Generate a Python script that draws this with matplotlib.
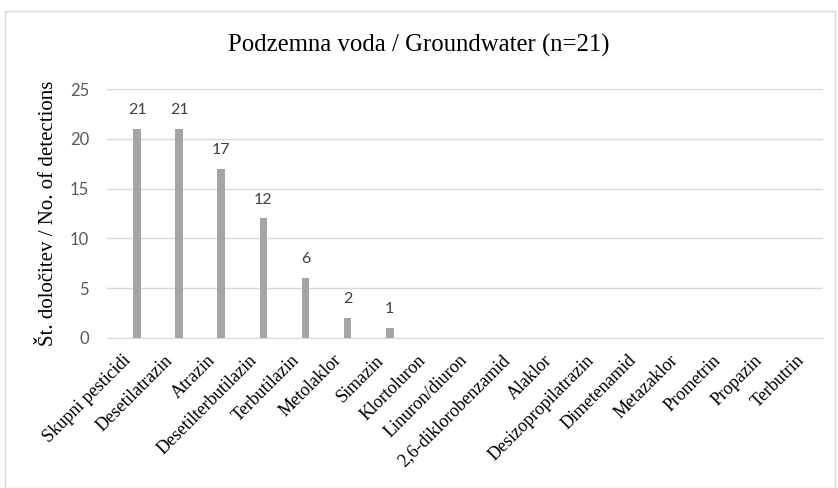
import matplotlib.pyplot as plt
from matplotlib.patches import Rectangle
from matplotlib.transforms import ScaledTranslation

categories = ['Skupni pesticidi', 'Desetilatrazin', 'Atrazin', 'Desetilterbutilazin',
              'Terbutilazin', 'Metolaklor', 'Simazin', 'Klortoluron', 'Linuron/diuron',
              '2,6-diklorobenzamid', 'Alaklor', 'Desizopropilatrazin', 'Dimetenamid',
              'Metazaklor', 'Prometrin', 'Propazin', 'Terbutrin']
counts = [21, 21, 17, 12, 6, 2, 1, 0, 0, 0, 0, 0, 0, 0, 0, 0, 0]
yticks = [0, 5, 10, 15, 20, 25]

fig = plt.figure(figsize=(8.38, 4.88), dpi=100)
fig.patches.append(Rectangle((5/838, 0.0), 830/838, 1 - 11/488, transform=fig.transFigure,
                             fill=False, edgecolor='#d9d9d9', linewidth=1))
ax = fig.add_axes([107/838, 1 - 338/488, 716/838, 249/488])

x = list(range(len(categories)))
ax.bar(x, counts, width=0.18, color='#a5a5a5', zorder=3)
for xi, v in zip(x, counts):
    if v > 0:
        ax.text(xi, v + 1.2, str(v), ha='center', va='bottom', fontsize=11.5,
                color='#404040', family='Lato')

ax.set_xlim(-0.713, 16.285)
ax.set_ylim(0, 25)
ax.set_yticks(yticks)
ax.set_yticklabels([str(t) for t in yticks], family='Lato', fontsize=12, color='#595959')
ax.set_xticks(x)
ax.set_xticklabels([])

# rotated category labels, ends tucked just left of each bar like Excel
lbl_tr = ax.get_xaxis_transform() + ScaledTranslation(-0.15, -0.137, fig.dpi_scale_trans)
for xi, name in zip(x, categories):
    ax.text(xi, 0, name, transform=lbl_tr, rotation=45, ha='right', va='top',
            rotation_mode='anchor', family='Liberation Serif', fontsize=13, color='black')

ax.tick_params(axis='both', length=0)
ax.tick_params(axis='y', pad=13)
ax.grid(axis='y', color='#d9d9d9', linewidth=1, zorder=0)
for s in ['top', 'right', 'left']:
    ax.spines[s].set_visible(False)
ax.spines['bottom'].set_color('#d9d9d9')
ax.spines['bottom'].set_zorder(4)

ax.set_ylabel('Št. določitev / No. of detections', family='Liberation Serif', fontsize=15)
ax.yaxis.set_label_coords(-0.068, 0.5)
fig.text(0.5, 1 - 45/488, 'Podzemna voda / Groundwater (n=21)', ha='center', va='center',
         family='Liberation Serif', fontsize=17.8)

fig.savefig('out.png', dpi=100)
